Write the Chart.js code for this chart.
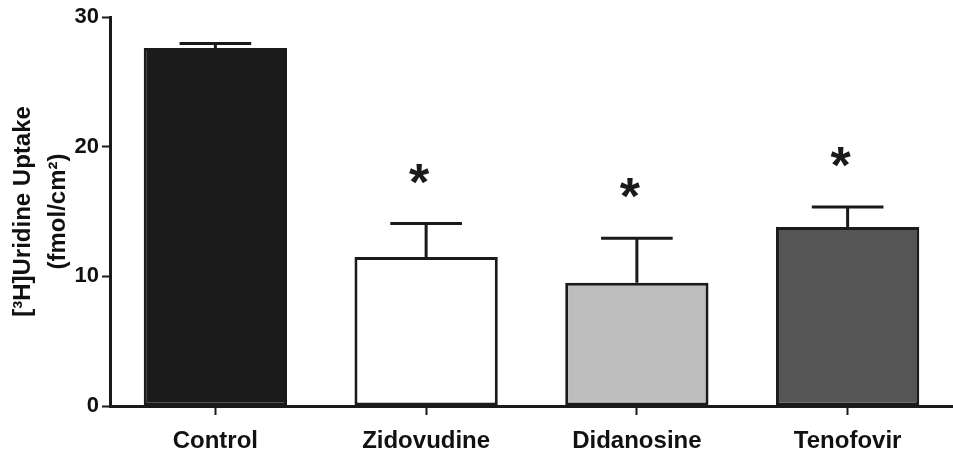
<!DOCTYPE html>
<html>
<head>
<meta charset="utf-8">
<script src="https://cdn.jsdelivr.net/npm/chart.js@4/dist/chart.umd.min.js"></script>
<style>
  html, body { margin: 0; padding: 0; background: #fff; }
  #wrap { position: relative; width: 953px; height: 458px; }
</style>
</head>
<body>
<div id="wrap"><canvas id="uptakeChart"></canvas></div>
<script>
(function () {
  "use strict";

  const groups = ["Control", "Zidovudine", "Didanosine", "Tenofovir"];
  const meanUptake = [27.6, 11.5, 9.5, 13.8];
  const semUptake = [0.35, 2.57, 3.43, 1.54];
  const significance = ["", "*", "*", "*"];
  const yTicks = [0, 10, 20, 30];

  const fills = ["#1b1b1b", "#ffffff", "#bdbdbd", "#555555"];
  const ink = "#1a1a1a";
  const family = "Arial, 'Liberation Sans', Helvetica, sans-serif";

  // error bars + asterisks drawn on top of the bars
  const errorBars = {
    id: "errorBars",
    afterDatasetsDraw: function (chart) {
      const meta = chart.getDatasetMeta(0);
      const y = chart.scales.y;
      const ctx = chart.ctx;
      ctx.save();
      ctx.strokeStyle = ink;
      ctx.lineWidth = 3;
      ctx.lineCap = "butt";
      meta.data.forEach(function (bar, i) {
        const top = y.getPixelForValue(meanUptake[i] + semUptake[i]);
        const base = y.getPixelForValue(meanUptake[i]);
        const half = bar.width / 4;
        ctx.beginPath();
        ctx.moveTo(bar.x, base);
        ctx.lineTo(bar.x, top);
        ctx.moveTo(bar.x - half, top);
        ctx.lineTo(bar.x + half, top);
        ctx.stroke();
        if (significance[i]) {
          ctx.fillStyle = ink;
          ctx.font = "bold 52px " + family;
          ctx.textAlign = "center";
          ctx.textBaseline = "alphabetic";
          ctx.fillText(significance[i], bar.x - 7, top - 24);
        }
      });
      ctx.restore();
    }
  };

  new Chart(document.getElementById("uptakeChart"), {
    type: "bar",
    data: {
      labels: groups,
      datasets: [{
        data: meanUptake,
        backgroundColor: fills,
        borderColor: ink,
        borderWidth: 3,
        borderSkipped: false,
        categoryPercentage: 1,
        barPercentage: 0.68
      }]
    },
    options: {
      responsive: true,
      maintainAspectRatio: false,
      animation: false,
      layout: { padding: { top: 17, right: 0, left: 0, bottom: 0 } },
      plugins: {
        legend: { display: false },
        tooltip: { enabled: false }
      },
      scales: {
        x: {
          afterFit: function (scale) { scale.height = 52; },
          border: { display: true, color: ink, width: 3 },
          grid: {
            offset: false,
            drawOnChartArea: false,
            drawTicks: true,
            tickLength: 9,
            tickWidth: 2,
            tickColor: ink
          },
          ticks: {
            color: "#111",
            padding: 12,
            font: { family: family, size: 24, weight: "bold" }
          }
        },
        y: {
          min: 0,
          max: 30,
          afterFit: function (scale) { scale.width = 110; },
          afterBuildTicks: function (scale) {
            scale.ticks = yTicks.map(function (v) { return { value: v }; });
          },
          border: { display: true, color: ink, width: 3 },
          grid: {
            drawOnChartArea: false,
            drawTicks: true,
            tickLength: 8,
            tickWidth: 2,
            tickColor: ink
          },
          ticks: {
            color: "#111",
            padding: 3,
            font: { family: family, size: 22, weight: "bold" }
          },
          title: {
            display: true,
            text: ["[\u00b3H]Uridine Uptake", "(fmol/cm\u00b2)"],
            color: "#111",
            padding: { top: 6, bottom: 0 },
            font: { family: family, size: 24, weight: "bold", lineHeight: 1.46 }
          }
        }
      }
    },
    plugins: [errorBars]
  });
})();
</script>
</body>
</html>
